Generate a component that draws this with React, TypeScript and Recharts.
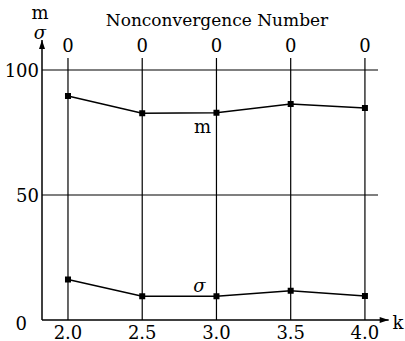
import React from 'react';
import { LineChart, Line, XAxis, YAxis, ReferenceLine, LabelList } from 'recharts';

// k values along the bottom axis
const kValues = [2.0, 2.5, 3.0, 3.5, 4.0];
// mean m and deviation sigma for each k
const mValues = [89.6, 82.7, 82.9, 86.4, 84.8];
const sigmaValues = [16.2, 9.5, 9.5, 11.7, 9.6];
// nonconvergence count shown along the top axis
const nonconvergence = [0, 0, 0, 0, 0];
const yTicks = [0, 50, 100];

const data = kValues.map((k, i) => ({ k, m: mValues[i], sigma: sigmaValues[i] }));

const X_MIN = 1.825;
const X_MAX = 4.088;
const FONT = 'DejaVu Serif, Liberation Serif, Times New Roman, serif';
const txt = { fontFamily: FONT, fontSize: 18, fill: '#000' };

const SquareDot = (props: any) => {
  const { cx, cy, index } = props;
  return <rect key={`sq-${index}`} x={cx - 3} y={cy - 3} width={6} height={6} fill="#000" />;
};

// axis line with an arrow head at its far end
const Arrow = (props: any) => {
  const { x1, y1, x2, y2 } = props;
  const vertical = Math.abs(x1 - x2) < 1;
  const head = vertical
    ? `${x2},${y2} ${x2 - 3},${y2 + 9} ${x2 + 3},${y2 + 9}`
    : `${x2},${y2} ${x2 - 9},${y2 - 3} ${x2 - 9},${y2 + 3}`;
  return (
    <g>
      <line x1={x1} y1={y1} x2={x2} y2={y2} stroke="#000" strokeWidth={1.5} />
      <polygon points={head} fill="#000" />
    </g>
  );
};

const YTick = (props: any) => {
  const { x, y, payload } = props;
  const zero = payload.value === 0;
  return (
    <text x={zero ? x - 12 : x} y={y + (zero ? 3 : 0)} textAnchor="end" dominantBaseline="central" style={txt}>
      {payload.value}
    </text>
  );
};

const XTick = (props: any) => {
  const { x, y, payload, top } = props;
  const label = top ? String(nonconvergence[kValues.indexOf(payload.value)]) : payload.value.toFixed(1);
  return (
    <text x={x} y={top ? y - 13 : y + 12} textAnchor="middle" dominantBaseline="central" style={txt}>
      {label}
    </text>
  );
};

const seriesLabel = (name: string, dx: number, dy: number) => (props: any) => {
  const { x, y, index } = props;
  if (index !== 2) return null;
  return (
    <text x={x + dx} y={y + dy} textAnchor="middle" dominantBaseline="central"
      style={{ ...txt, fontStyle: name === 'σ' ? 'italic' : 'normal' }}>
      {name}
    </text>
  );
};

export default function App() {
  return (
    <div style={{ position: 'absolute', left: 0, top: 0, background: '#fff' }}>
      <LineChart width={405} height={341} data={data} margin={{ top: 8, right: 27, bottom: 0, left: 0 }}>
        <XAxis dataKey="k" type="number" domain={[X_MIN, X_MAX]} ticks={kValues} allowDataOverflow
          axisLine={false} tickLine={false} tickSize={0} tickMargin={0} height={21}
          tick={<XTick />}
          label={{
            content: (p: any) => (
              <text x={p.viewBox.x + p.viewBox.width + 20} y={p.viewBox.y + 2} textAnchor="middle"
                dominantBaseline="central" style={txt}>k</text>
            ),
          }} />
        <XAxis xAxisId="top" dataKey="k" type="number" orientation="top" domain={[X_MIN, X_MAX]}
          ticks={kValues} allowDataOverflow axisLine={false} tickLine={false} tickSize={0} tickMargin={0}
          height={50} tick={<XTick top />}
          label={{
            content: (p: any) => (
              <text x={p.viewBox.x + p.viewBox.width / 2 + 7} y={p.viewBox.y + 12} textAnchor="middle"
                dominantBaseline="central" style={{ ...txt, fontSize: 17 }}>
                Nonconvergence Number
              </text>
            ),
          }} />
        <YAxis type="number" domain={[0, 104.8]} ticks={yTicks} allowDataOverflow width={42}
          axisLine={false} tickLine={false} tickSize={0} tickMargin={3} tick={<YTick />}
          label={{
            content: () => (
              <g>
                <text x={40} y={12} textAnchor="middle" dominantBaseline="central" style={txt}>m</text>
                <text x={40} y={32} textAnchor="middle" dominantBaseline="central"
                  style={{ ...txt, fontStyle: 'italic' }}>σ</text>
              </g>
            ),
          }} />
        {yTicks.slice(1).map((t) => (
          <ReferenceLine key={`h-${t}`} y={t} stroke="#000" strokeWidth={1.2} />
        ))}
        {kValues.map((k) => (
          <ReferenceLine key={`v-${k}`} x={k} stroke="#000" strokeWidth={1.2} />
        ))}
        <ReferenceLine segment={[{ x: X_MIN, y: 0 }, { x: X_MIN, y: 112 }]} ifOverflow="visible" shape={<Arrow />} />
        <ReferenceLine segment={[{ x: X_MIN, y: 0 }, { x: 4.16, y: 0 }]} ifOverflow="visible" shape={<Arrow />} />
        <Line dataKey="m" stroke="#000" strokeWidth={1.5} dot={<SquareDot />} isAnimationActive={false}>
          <LabelList dataKey="m" content={seriesLabel('m', -14, 14)} />
        </Line>
        <Line dataKey="sigma" stroke="#000" strokeWidth={1.5} dot={<SquareDot />} isAnimationActive={false}>
          <LabelList dataKey="sigma" content={seriesLabel('σ', -17, -11)} />
        </Line>
      </LineChart>
    </div>
  );
}
